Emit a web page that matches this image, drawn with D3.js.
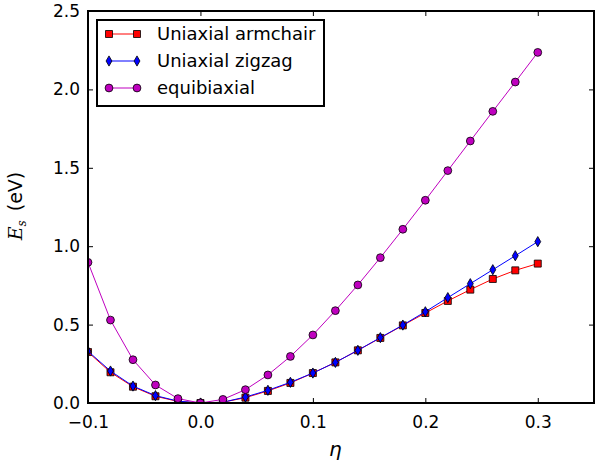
<!DOCTYPE html>
<html>
<head>
<meta charset="utf-8">
<script src="https://cdn.jsdelivr.net/npm/d3@7"></script>
<style>
  body { margin: 0; background: #fff; }
  text { font-family: "DejaVu Sans", sans-serif; }
</style>
</head>
<body>
<div class="chart"></div>
<script>
// strain values (eta)
var eta = [-0.10, -0.08, -0.06, -0.04, -0.02, 0.00, 0.02, 0.04, 0.06, 0.08, 0.10,
           0.12, 0.14, 0.16, 0.18, 0.20, 0.22, 0.24, 0.26, 0.28, 0.30];

// strain energy (eV)
var armchair = [0.325, 0.196, 0.104, 0.043, 0.010, 0.000, 0.005, 0.034, 0.077, 0.128, 0.191,
                0.259, 0.336, 0.415, 0.495, 0.574, 0.651, 0.723, 0.791, 0.846, 0.889];
var zigzag = [0.330, 0.204, 0.108, 0.047, 0.012, 0.000, 0.005, 0.038, 0.081, 0.132, 0.191,
              0.259, 0.336, 0.417, 0.497, 0.582, 0.672, 0.761, 0.850, 0.939, 1.029];
var equibiaxial = [0.897, 0.529, 0.276, 0.115, 0.028, 0.000, 0.023, 0.085, 0.179, 0.297, 0.434,
                   0.589, 0.753, 0.927, 1.108, 1.293, 1.482, 1.671, 1.860, 2.047, 2.236];

var seriesNames = ["Uniaxial armchair", "Uniaxial zigzag", "equibiaxial"];
var xTicks = [-0.1, 0.0, 0.1, 0.2, 0.3];
var yTicks = [0.0, 0.5, 1.0, 1.5, 2.0, 2.5];

var svgWidth = 595, svgHeight = 469;
var margin = { top: 11, right: 1, bottom: 66, left: 88 };
var width = svgWidth - margin.left - margin.right;
var height = svgHeight - margin.top - margin.bottom;

var svg = d3.select(".chart").append("svg")
    .attr("width", svgWidth)
    .attr("height", svgHeight);

var chartGroup = svg.append("g")
    .attr("transform", `translate(${margin.left}, ${margin.top})`);

var xScale = d3.scaleLinear().domain([-0.1, 0.35]).range([0, width]);
var yScale = d3.scaleLinear().domain([0, 2.5]).range([height, 0]);

var fmt = function (d) { return d3.format(".1f")(d).replace("-", "\u2212"); };

// axes with inward ticks on all four sides
var tickLen = 5;
var bottomAxis = d3.axisBottom(xScale).tickValues(xTicks).tickSize(-tickLen).tickPadding(13).tickFormat(fmt);
var topAxis = d3.axisTop(xScale).tickValues(xTicks).tickSize(-tickLen).tickFormat("");
var leftAxis = d3.axisLeft(yScale).tickValues(yTicks).tickSize(-tickLen).tickPadding(8).tickFormat(fmt);
var rightAxis = d3.axisRight(yScale).tickValues(yTicks).tickSize(-tickLen).tickFormat("");

function styleAxis(g) {
    g.select(".domain").remove();
    g.selectAll(".tick line").attr("stroke", "#000").attr("stroke-width", 1);
    g.selectAll(".tick text").attr("font-size", 17).attr("fill", "#000")
        .style("font-family", "'DejaVu Sans', sans-serif");
}

chartGroup.append("g").attr("transform", `translate(0, ${height})`).call(bottomAxis).call(styleAxis);
chartGroup.append("g").call(topAxis).call(styleAxis);
chartGroup.append("g").call(leftAxis).call(styleAxis);
chartGroup.append("g").attr("transform", `translate(${width}, 0)`).call(rightAxis).call(styleAxis);

// series
var series = [
    { name: seriesNames[0], values: armchair, color: "#ff0000", symbol: d3.symbolSquare, size: 49 },
    { name: seriesNames[1], values: zigzag, color: "#0000ff", symbol: d3.symbolDiamond, size: 30 },
    { name: seriesNames[2], values: equibiaxial, color: "#bf00bf", symbol: d3.symbolCircle, size: 48 }
];

chartGroup.append("clipPath").attr("id", "plotclip")
    .append("rect").attr("width", width).attr("height", height);

var plot = chartGroup.append("g").attr("clip-path", "url(#plotclip)");

var line = d3.line()
    .x(function (d, i) { return xScale(eta[i]); })
    .y(function (d) { return yScale(d); });

series.forEach(function (s) {
    var g = plot.append("g");
    g.append("path")
        .attr("d", line(s.values))
        .attr("fill", "none")
        .attr("stroke", s.color)
        .attr("stroke-width", 1);
    g.selectAll("path.marker")
        .data(s.values)
        .enter()
        .append("path")
        .attr("class", "marker")
        .attr("d", d3.symbol().type(s.symbol).size(s.size))
        .attr("transform", function (d, i) { return `translate(${xScale(eta[i])}, ${yScale(d)})`; })
        .attr("fill", s.color)
        .attr("stroke", "#000")
        .attr("stroke-width", 0.8);
});

// frame
chartGroup.append("rect")
    .attr("width", width)
    .attr("height", height)
    .attr("fill", "none")
    .attr("stroke", "#000")
    .attr("stroke-width", 2);

// legend
var legend = chartGroup.append("g").attr("transform", "translate(9, 9)");
legend.append("rect")
    .attr("width", 227)
    .attr("height", 86)
    .attr("fill", "#fff")
    .attr("stroke", "#000")
    .attr("stroke-width", 2);

series.forEach(function (s, i) {
    var row = legend.append("g").attr("transform", `translate(0, ${14 + i * 27})`);
    row.append("line")
        .attr("x1", 12).attr("x2", 40)
        .attr("stroke", s.color).attr("stroke-width", 1);
    [12, 40].forEach(function (x) {
        row.append("path")
            .attr("d", d3.symbol().type(s.symbol).size(s.size))
            .attr("transform", `translate(${x}, 0)`)
            .attr("fill", s.color)
            .attr("stroke", "#000")
            .attr("stroke-width", 0.8);
    });
    row.append("text")
        .attr("x", 60)
        .attr("y", 0)
        .attr("dy", "0.35em")
        .attr("font-size", 18)
        .text(s.name);
});

// axis labels
chartGroup.append("text")
    .attr("transform", `translate(${-66}, ${height / 2 - 1}) rotate(-90)`)
    .attr("text-anchor", "middle")
    .attr("font-size", 19)
    .html('<tspan font-family="DejaVu Serif" font-style="italic">E</tspan><tspan font-family="DejaVu Serif" font-style="italic" font-size="12" dy="4">s</tspan><tspan dy="-4" dx="9">(eV)</tspan>');

chartGroup.append("text")
    .attr("x", xScale(0.12))
    .attr("y", height + 53)
    .attr("text-anchor", "middle")
    .attr("font-size", 20)
    .attr("font-family", "DejaVu Serif")
    .attr("font-style", "italic")
    .text("\u03b7");
</script>
</body>
</html>
